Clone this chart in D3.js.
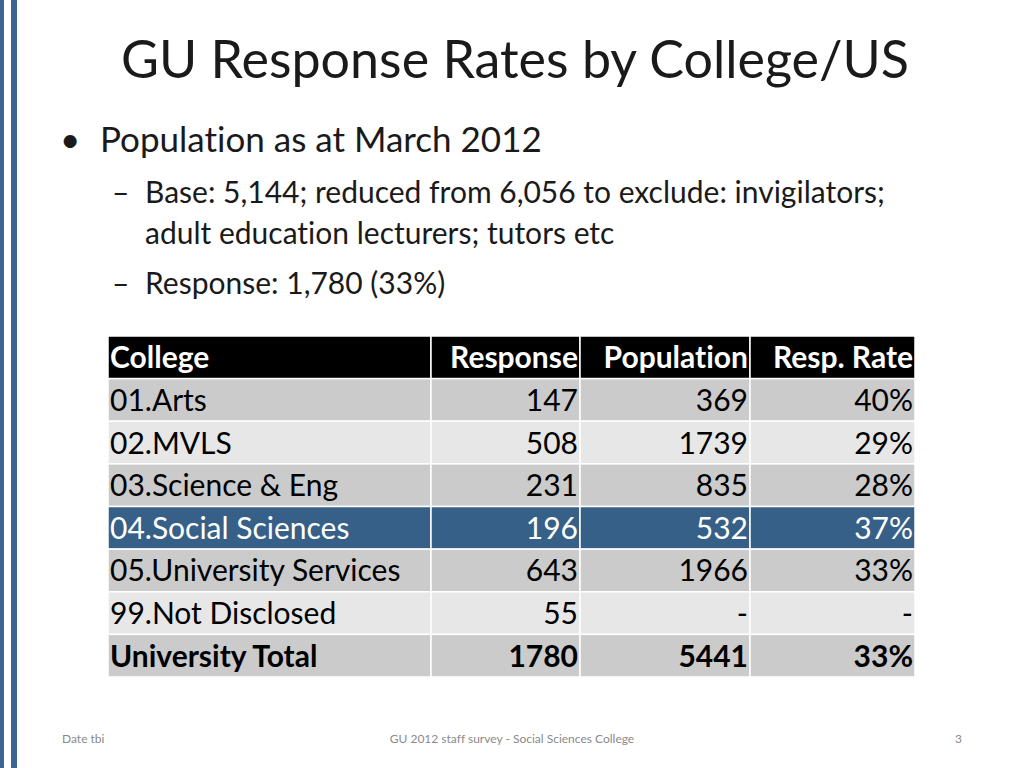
<!DOCTYPE html>
<html><head><meta charset="utf-8">
<script src="https://cdn.jsdelivr.net/npm/d3@7"></script>
<style>body{margin:0;background:#fff}svg{display:block;font-family:Lato,"Open Sans",sans-serif;font-variant-ligatures:none}</style>
</head><body><div id="slide"></div>
<script>
const columns = ["College", "Response", "Population", "Resp. Rate"];
const colleges = ["01.Arts", "02.MVLS", "03.Science & Eng", "04.Social Sciences", "05.University Services", "99.Not Disclosed", "University Total"];
const responses = ["147", "508", "231", "196", "643", "55", "1780"];
const populations = ["369", "1739", "835", "532", "1966", "-", "5441"];
const rates = ["40%", "29%", "28%", "37%", "33%", "-", "33%"];
const highlight = "04.Social Sciences";
const total = "University Total";

const svg = d3.select("#slide").append("svg").attr("width", 1024).attr("height", 768);

// left edge stripes
svg.append("rect").attr("x", 0).attr("width", 4).attr("height", 768).attr("fill", "#3d6591");
svg.append("rect").attr("x", 11).attr("width", 6).attr("height", 768).attr("fill", "#3d6591");

svg.append("text").attr("x", 515).attr("y", 78).attr("text-anchor", "middle")
    .attr("font-size", 52).attr("fill", "#1a1a1a").text("GU Response Rates by College/US");

const bullets = [
    { x: 100, y: 152, s: 35, t: "Population as at March 2012", mark: "•", mx: 60 },
    { x: 145, y: 203, s: 30, t: "Base: 5,144; reduced from 6,056 to exclude: invigilators;", mark: "–", mx: 112 },
    { x: 145, y: 244, s: 30, t: "adult education lecturers; tutors etc" },
    { x: 145, y: 294, s: 30, t: "Response: 1,780 (33%)", mark: "–", mx: 112 }
];
bullets.forEach(b => {
    svg.append("text").attr("x", b.x).attr("y", b.y).attr("font-size", b.s).attr("fill", "#1a1a1a").text(b.t);
    if (b.mark) svg.append("text").attr("x", b.mx).attr("y", b.y).attr("font-size", b.s).attr("fill", "#1a1a1a").text(b.mark);
});

// table
const edges = [108, 431, 580, 750, 915];
const rows = colleges.map((c, i) => [c, responses[i], populations[i], rates[i]]);
const y = d3.scaleBand().domain(d3.range(rows.length + 1)).range([336, 677]);
const t = svg.append("g").attr("font-size", 30);

function drawRow(vals, i, fill, color, bold) {
    const g = t.append("g");
    columns.forEach((col, j) => {
        g.append("rect").attr("x", edges[j]).attr("y", y(i)).attr("width", edges[j + 1] - edges[j])
            .attr("height", y.bandwidth()).attr("fill", fill).attr("stroke", "#fff").attr("stroke-width", 1.5);
        g.append("text").attr("x", j === 0 ? edges[j] + 2 : edges[j + 1] - 2)
            .attr("y", y(i) + y.bandwidth() / 2 + 11)
            .attr("text-anchor", j === 0 ? "start" : "end")
            .attr("textLength", null)
            .attr("fill", color).attr("font-weight", bold ? "bold" : "normal").text(vals[j]);
    });
}
drawRow(columns, 0, "#000", "#fff", true);
rows.forEach((r, i) => {
    const hl = r[0] === highlight;
    drawRow(r, i + 1, hl ? "#366087" : (i % 2 ? "#e7e7e7" : "#cbcbcb"), hl ? "#fff" : "#000", r[0] === total);
});

const foot = svg.append("g").attr("font-size", 12).attr("fill", "#8a8a8a");
foot.append("text").attr("x", 62).attr("y", 743).text("Date tbi");
foot.append("text").attr("x", 512).attr("y", 743).attr("text-anchor", "middle").text("GU 2012 staff survey -  Social Sciences College");
foot.append("text").attr("x", 962).attr("y", 743).attr("text-anchor", "end").text("3");
</script></body></html>
